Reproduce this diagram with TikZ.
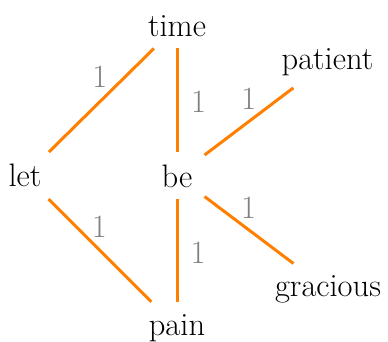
\documentclass[tikz,border=0pt]{standalone}
\usepackage{fontspec}
\begin{document}
\begin{tikzpicture}[x=1pt,y=1pt,
  word/.style={rectangle, inner sep=12pt, font=\fontsize{32.5}{37}\selectfont, text=black, anchor=base},
  link/.style={draw=orange, line width=3pt},
  lbl/.style={inner sep=0pt, text=gray, font=\fontsize{32.5}{37}\selectfont, midway}]
\path[use as bounding box] (0,0) rectangle (388,341);
\node[word] (time) at (177,305) {time};
\node[word] (let) at (25,154.3) {let};
\node[word] (be) at (177,154) {be};
\node[word] (patient) at (327.5,271.7) {patient};
\node[word] (gracious) at (328,44.3) {gracious};
\node[word] (pain) at (177,6) {pain};
\draw[link] (time) -- node[lbl, xshift=-1.5pt, yshift=23pt] {1} (let);
\draw[link] (time) -- node[lbl, xshift=21.5pt, yshift=-1.5pt] {1} (be);
\draw[link] (be) -- node[lbl, yshift=23pt] {1} (patient);
\draw[link] (be) -- node[lbl, xshift=-0.5pt, yshift=22pt] {1} (gracious);
\draw[link] (be) -- node[lbl, xshift=21pt, yshift=-2.5pt] {1} (pain);
\draw[link] (let) -- node[lbl, xshift=-0.5pt, yshift=24pt] {1} (pain);
\end{tikzpicture}
\end{document}
